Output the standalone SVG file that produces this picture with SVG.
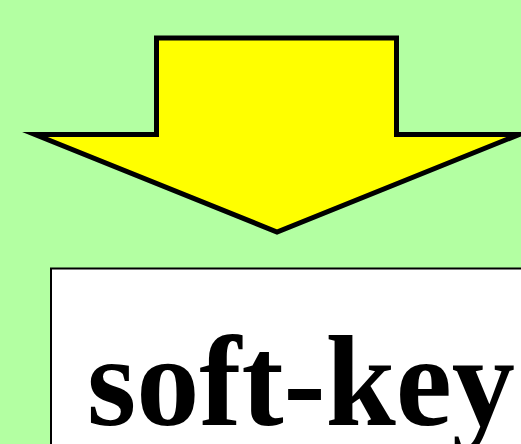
<svg xmlns="http://www.w3.org/2000/svg" width="521" height="444" viewBox="0 0 521 444">
<style>
.arrow{fill:#FFFF00;stroke:#000;stroke-width:5;stroke-linejoin:miter;stroke-miterlimit:10}
.box{fill:#FFFFFF;stroke:#000;stroke-width:2}
.label{font-family:"Liberation Serif","Times New Roman",serif;font-weight:bold;font-size:129px;fill:#000}
</style>
<rect x="0" y="0" width="521" height="444" fill="#B3FFA2"/>
<g id="arrow">
<polygon class="arrow" points="156.5,38 396.5,38 396.5,134.5 519,134.5 277,232 35,134.5 156.5,134.5"/>
</g>
<g id="softkey">
<rect class="box" x="51" y="268.5" width="520" height="220"/>
<text class="label" x="87" y="425" textLength="428" lengthAdjust="spacingAndGlyphs">soft-key</text>
</g>
</svg>
